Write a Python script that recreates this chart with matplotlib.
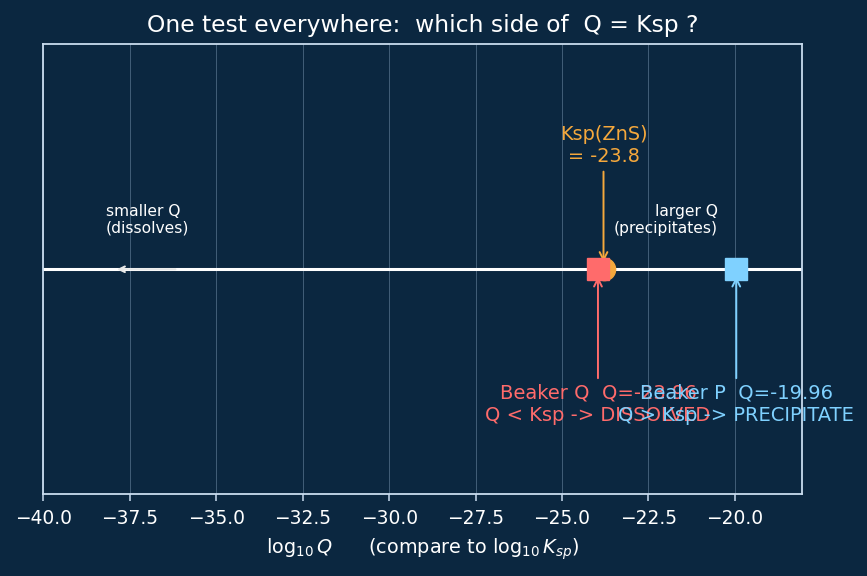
import matplotlib
matplotlib.use("Agg")
import matplotlib.pyplot as plt

bg = "#0b2740"
spine_c = "#c9dcef"
ksp_c = "#f5a83c"
q_c = "#ff6b6b"
p_c = "#7fd1ff"

log_ksp = -23.8
names = ["Beaker Q", "Beaker P"]
log_q = [-23.96, -19.96]
verdicts = ["Q < Ksp -> DISSOLVED", "Q > Ksp -> PRECIPITATE"]
colors = [q_c, p_c]

fig, ax = plt.subplots(figsize=(8.67, 5.76), dpi=100)
fig.patch.set_facecolor(bg)
ax.set_facecolor(bg)

ax.set_xlim(-40, -18.06)
ax.set_ylim(-1, 1)
ax.axhline(0, color="white", lw=2.2, zorder=1)
ax.grid(axis="x", color="#5a7590", lw=0.7, alpha=0.7)
ax.set_axisbelow(True)
ax.set_yticks([])

ax.plot([log_ksp], [0], "o", color=ksp_c, ms=16, zorder=3)
ax.annotate(f"Ksp(ZnS)\n= {log_ksp}", xy=(log_ksp, 0.02), xytext=(log_ksp, 0.55),
            ha="center", va="center", color=ksp_c, fontsize=13.9,
            arrowprops=dict(arrowstyle="->", color=ksp_c, lw=1.4))

for n, q, v, c in zip(names, log_q, verdicts, colors):
    ax.plot([q], [0], "s", color=c, ms=16, zorder=4)
    ax.annotate(f"{n}  Q={q}\n{v}", xy=(q, -0.02), xytext=(q, -0.6),
                ha="center", va="center", color=c, fontsize=14,
                arrowprops=dict(arrowstyle="->", color=c, lw=1.4))

ax.annotate("", xy=(-37.95, 0), xytext=(-36.1, 0),
            arrowprops=dict(arrowstyle="->", color="#e8e8e8", lw=1.5))
ax.text(-38.2, 0.22, "smaller Q\n(dissolves)", color="white", fontsize=11.2,
        ha="left", va="center")
ax.text(-20.5, 0.22, "larger Q\n(precipitates)", color="white", fontsize=11.2,
        ha="right", va="center")

for s in ax.spines.values():
    s.set_color(spine_c)
    s.set_linewidth(1.3)
ax.tick_params(axis="x", colors=spine_c, labelcolor="white", labelsize=13.4,
               length=5, width=1.1, pad=5.5)

ax.set_xlabel(r"$\log_{10}Q$      (compare to $\log_{10}K_{sp}$)", color="white",
              fontsize=13.9, labelpad=6)
ax.set_title("One test everywhere:  which side of  Q = Ksp ?", color="white",
             fontsize=16.8, pad=9)

fig.subplots_adjust(left=0.05, right=0.925, top=0.923, bottom=0.142)
fig.savefig("out.png", dpi=100, facecolor=bg)
